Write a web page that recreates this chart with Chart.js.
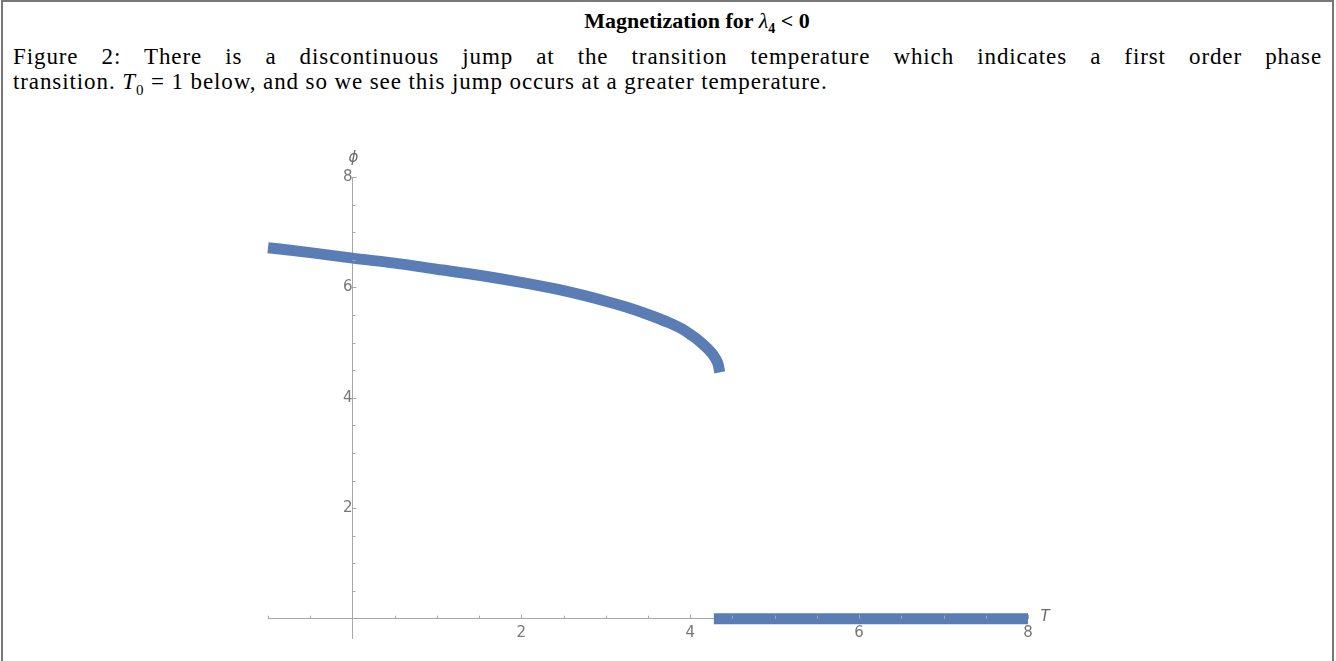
<!DOCTYPE html>
<html>
<head>
<meta charset="utf-8">
<script src="https://cdn.jsdelivr.net/npm/chart.js@4.4.1/dist/chart.umd.min.js"></script>
<style>
  html, body { margin: 0; padding: 0; background: #fff; }
  body { width: 1336px; height: 661px; position: relative; overflow: hidden; }
  #frame { position: absolute; left: 1px; top: 0; width: 1333px; height: 670px;
           border: 2px solid #777; box-sizing: border-box; }
  #chart { position: absolute; left: 0; top: 0; }
  .title { position: absolute; top: 8px; left: 0; width: 1394px; text-align: center;
           font: bold 22px "Liberation Serif", serif; color: #000; }
  .caption { position: absolute; left: 13px; top: 44px; width: 1309px;
             font: 23px/25px "Liberation Serif", serif; letter-spacing: 0.9px; color: #000; }
  .line1 { text-align: justify; text-align-last: justify; }
</style>
</head>
<body>
<div id="frame"></div>
<div class="title">Magnetization for <i style="font-weight:normal">λ</i><sub style="font-size:14px">4</sub> &lt; 0</div>
<div class="caption">
  <div class="line1">Figure 2: There is a discontinuous jump at the transition temperature which indicates a first order phase</div>
  <div>transition. <i>T</i><sub style="font-size:15px">0</sub> = 1 below, and so we see this jump occurs at a greater temperature.</div>
</div>
<canvas id="chart" width="1336" height="661"></canvas>
<script>
// ordered branch
const temps = [-1.0, -0.5, 0, 0.5, 1.0, 1.5, 2.0, 2.5, 3.0, 3.25, 3.5, 3.75, 3.9, 4.0, 4.1, 4.2, 4.26, 4.3, 4.33, 4.35];
const phis  = [6.72, 6.63, 6.53, 6.44, 6.33, 6.22, 6.09, 5.94, 5.75, 5.64, 5.51, 5.36, 5.25, 5.15, 5.04, 4.90, 4.80, 4.71, 4.61, 4.46];
// disordered branch
const flatTemps = [4.28, 8];
const flatPhis = [0, 0];

const xLabels = [2, 4, 6, 8];
const yLabels = [2, 4, 6, 8];

const blue = '#5b7db6';
const axisGrey = '#a8a8a8';

// small inward ticks like Mathematica, and axis names
const axisExtras = {
    id: 'axisExtras',
    afterDraw(chart) {
        const ctx = chart.ctx;
        const xs = chart.scales.x, ys = chart.scales.y;
        const x0 = xs.getPixelForValue(0), y0 = ys.getPixelForValue(0);
        ctx.save();
        ctx.strokeStyle = axisGrey;
        ctx.lineWidth = 1;
        xs.ticks.forEach(t => {
            if (t.value === 0) return;
            const px = Math.round(xs.getPixelForValue(t.value)) + 0.5;
            ctx.beginPath();
            ctx.moveTo(px, y0);
            ctx.lineTo(px, y0 - (xLabels.includes(t.value) ? 4 : 3));
            ctx.stroke();
        });
        ys.ticks.forEach(t => {
            if (t.value <= 0) return;
            const py = Math.round(ys.getPixelForValue(t.value)) + 0.5;
            ctx.beginPath();
            ctx.moveTo(x0, py);
            ctx.lineTo(x0 + (yLabels.includes(t.value) ? 4 : 3), py);
            ctx.stroke();
        });
        ctx.fillStyle = '#6a6a6a';
        ctx.font = 'italic 15px "DejaVu Sans", sans-serif';
        ctx.textAlign = 'center';
        ctx.textBaseline = 'middle';
        ctx.fillText('\u03D5', x0 + 1, ys.getPixelForValue(8) - 19);
        ctx.fillText('T', xs.getPixelForValue(8) + 17, y0 - 2);
        ctx.restore();
    }
};

const halfSteps = s => {
    s.ticks = s.ticks.filter(t => Math.abs(t.value * 2 - Math.round(t.value * 2)) < 1e-6);
};

new Chart(document.getElementById('chart'), {
    type: 'scatter',
    data: {
        datasets: [
            {
                data: temps.map((t, i) => ({ x: t, y: phis[i] })),
                showLine: true,
                borderColor: blue,
                borderWidth: 11,
                borderCapStyle: 'butt',
                pointRadius: 0,
                cubicInterpolationMode: 'monotone',
                clip: false
            },
            {
                data: flatTemps.map((t, i) => ({ x: t, y: flatPhis[i] })),
                showLine: true,
                borderColor: blue,
                borderWidth: 11,
                borderCapStyle: 'butt',
                pointRadius: 0,
                clip: false
            }
        ]
    },
    options: {
        responsive: false,
        animation: false,
        layout: { padding: { left: 268, right: 308, top: 177, bottom: 23 } },
        plugins: { legend: { display: false }, tooltip: { enabled: false } },
        scales: {
            x: {
                type: 'linear',
                min: -1,
                max: 8,
                position: { y: 0 },
                afterBuildTicks: halfSteps,
                afterFit: s => { s.height = 0; s.paddingLeft = 0; s.paddingRight = 0; },
                grid: { display: true, drawOnChartArea: false, drawTicks: false },
                border: { display: true, color: axisGrey, width: 1 },
                ticks: {
                    stepSize: 0.5,
                    autoSkip: false,
                    maxRotation: 0,
                    padding: 5,
                    color: '#777',
                    font: { family: '"DejaVu Sans", sans-serif', size: 15 },
                    callback: v => xLabels.includes(v) ? String(v) : ''
                }
            },
            y: {
                type: 'linear',
                min: -0.35,
                max: 8,
                position: { x: 0 },
                afterBuildTicks: halfSteps,
                afterFit: s => { s.width = 0; s.paddingTop = 0; s.paddingBottom = 0; },
                grid: { display: true, drawOnChartArea: false, drawTicks: false },
                border: { display: true, color: axisGrey, width: 1 },
                ticks: {
                    stepSize: 0.5,
                    autoSkip: false,
                    padding: 5,
                    color: '#777',
                    font: { family: '"DejaVu Sans", sans-serif', size: 15 },
                    callback: v => yLabels.includes(v) ? String(v) : ''
                }
            }
        }
    },
    plugins: [axisExtras]
});
</script>
</body>
</html>
